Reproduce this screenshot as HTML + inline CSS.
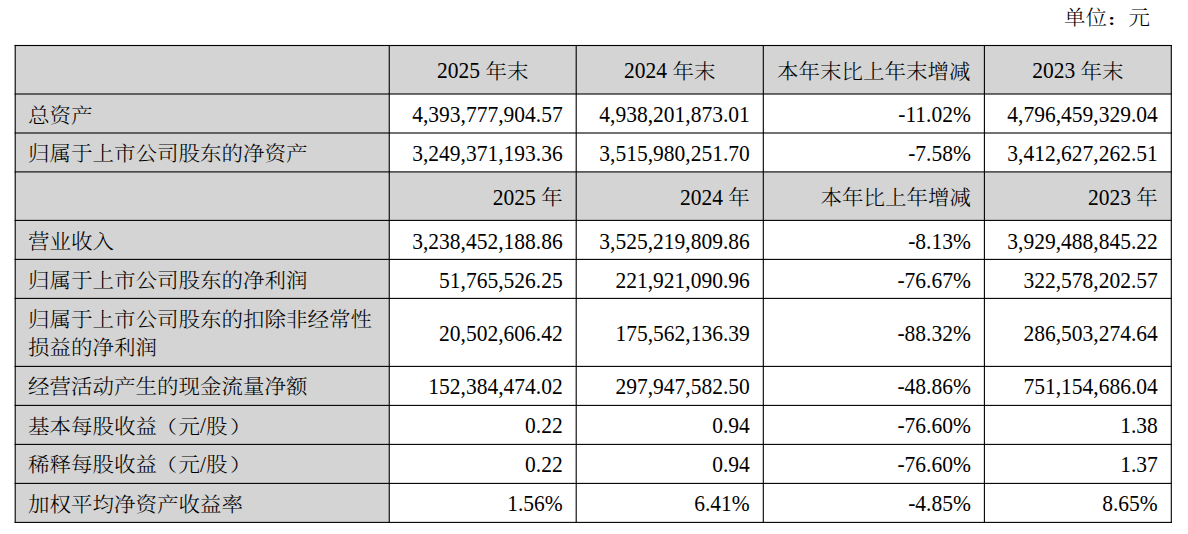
<!DOCTYPE html>
<html lang="zh-CN"><head><meta charset="utf-8"><title>主要会计数据</title>
<style>
*{margin:0;padding:0;box-sizing:border-box}
html,body{width:1188px;height:534px;background:#fff;overflow:hidden}
body{position:relative;font-family:"Liberation Serif","Noto Serif CJK SC",serif;font-size:21.5px;color:#000;line-height:1}
.t{position:absolute;white-space:nowrap;line-height:25.80px}
.c{text-align:center}
.r{text-align:right}
.k{display:inline-block;transform:translateY(calc(3.0px + var(--dk,0px))) scaleY(0.93);transform-origin:50% 55%;font-weight:300}
.cl{display:inline-block;transform:translate(-1.8px,4.6px) scale(0.85,0.66);transform-origin:50% 55%;font-weight:700}
.pl{display:inline-block;transform:translateX(-1.6px) scaleY(0.9)}
.pr{display:inline-block;transform:translateX(2.4px) scaleY(0.9)}
.n{display:inline-block;white-space:pre;transform:translateY(calc(2.0px + var(--dn,0px))) scaleY(1.05);transform-origin:50% 70%}
svg{position:absolute;left:0;top:0}
</style></head>
<body>
<svg width="1188" height="534" viewBox="0 0 1188 534">
<rect x="15.20" y="45.50" width="374.05" height="476.90" fill="#d4d4d4"/>
<rect x="15.20" y="45.50" width="1156.10" height="48.50" fill="#d4d4d4"/>
<rect x="15.20" y="171.90" width="1156.10" height="48.50" fill="#d4d4d4"/>
<rect x="14.65" y="44.95" width="1157.20" height="1.1" fill="#000"/>
<rect x="14.65" y="93.45" width="1157.20" height="1.1" fill="#000"/>
<rect x="14.65" y="132.45" width="1157.20" height="1.1" fill="#000"/>
<rect x="14.65" y="171.35" width="1157.20" height="1.1" fill="#000"/>
<rect x="14.65" y="219.85" width="1157.20" height="1.1" fill="#000"/>
<rect x="14.65" y="258.85" width="1157.20" height="1.1" fill="#000"/>
<rect x="14.65" y="297.85" width="1157.20" height="1.1" fill="#000"/>
<rect x="14.65" y="365.85" width="1157.20" height="1.1" fill="#000"/>
<rect x="14.65" y="404.85" width="1157.20" height="1.1" fill="#000"/>
<rect x="14.65" y="443.85" width="1157.20" height="1.1" fill="#000"/>
<rect x="14.65" y="482.85" width="1157.20" height="1.1" fill="#000"/>
<rect x="14.65" y="521.85" width="1157.20" height="1.1" fill="#000"/>
<rect x="14.65" y="44.95" width="1.1" height="478.00" fill="#000"/>
<rect x="388.70" y="44.95" width="1.1" height="478.00" fill="#000"/>
<rect x="575.65" y="44.95" width="1.1" height="478.00" fill="#000"/>
<rect x="762.75" y="44.95" width="1.1" height="478.00" fill="#000"/>
<rect x="983.85" y="44.95" width="1.1" height="478.00" fill="#000"/>
<rect x="1170.75" y="44.95" width="1.1" height="478.00" fill="#000"/>
</svg>
<div class="t" style="left:1064px;top:3.3px"><span class="k">单位</span><span class="cl">：</span><span class="k">元</span></div>
<div class="t c" style="--dn:0.35px;--dk:0.35px;left:389.25px;width:186.95px;top:56.85px"><span class="n">2025 </span><span class="k">年末</span></div>
<div class="t c" style="--dn:0.35px;--dk:0.35px;left:576.20px;width:187.10px;top:56.85px"><span class="n">2024 </span><span class="k">年末</span></div>
<div class="t c" style="--dn:0.35px;--dk:0.35px;left:763.30px;width:221.10px;top:56.85px"><span class="k">本年末比上年末增减</span></div>
<div class="t c" style="--dn:0.35px;--dk:0.35px;left:984.40px;width:186.90px;top:56.85px"><span class="n">2023 </span><span class="k">年末</span></div>
<div class="t" style="--dn:0px;--dk:0px;left:28.00px;top:100.60px"><span class="k">总资产</span></div>
<div class="t r" style="--dn:0px;--dk:0px;left:389.25px;width:173.45px;top:100.60px"><span class="n">4,393,777,904.57</span></div>
<div class="t r" style="--dn:0px;--dk:0px;left:576.20px;width:173.60px;top:100.60px"><span class="n">4,938,201,873.01</span></div>
<div class="t r" style="--dn:0px;--dk:0px;left:763.30px;width:207.60px;top:100.60px"><span class="n">-11.02%</span></div>
<div class="t r" style="--dn:0px;--dk:0px;left:984.40px;width:173.40px;top:100.60px"><span class="n">4,796,459,329.04</span></div>
<div class="t" style="--dn:0.15px;--dk:-0.35px;left:28.00px;top:139.55px"><span class="k">归属于上市公司股东的净资产</span></div>
<div class="t r" style="--dn:0.15px;--dk:-0.35px;left:389.25px;width:173.45px;top:139.55px"><span class="n">3,249,371,193.36</span></div>
<div class="t r" style="--dn:0.15px;--dk:-0.35px;left:576.20px;width:173.60px;top:139.55px"><span class="n">3,515,980,251.70</span></div>
<div class="t r" style="--dn:0.15px;--dk:-0.35px;left:763.30px;width:207.60px;top:139.55px"><span class="n">-7.58%</span></div>
<div class="t r" style="--dn:0.15px;--dk:-0.35px;left:984.40px;width:173.40px;top:139.55px"><span class="n">3,412,627,262.51</span></div>
<div class="t r" style="--dn:1.3px;--dk:0.4px;left:389.25px;width:173.45px;top:183.25px"><span class="n">2025 </span><span class="k">年</span></div>
<div class="t r" style="--dn:1.3px;--dk:0.4px;left:576.20px;width:173.60px;top:183.25px"><span class="n">2024 </span><span class="k">年</span></div>
<div class="t r" style="--dn:1.3px;--dk:0.4px;left:763.30px;width:207.60px;top:183.25px"><span class="k">本年比上年增减</span></div>
<div class="t r" style="--dn:1.3px;--dk:0.4px;left:984.40px;width:173.40px;top:183.25px"><span class="n">2023 </span><span class="k">年</span></div>
<div class="t" style="--dn:0.85px;--dk:-0.05px;left:28.00px;top:227.00px"><span class="k">营业收入</span></div>
<div class="t r" style="--dn:0.85px;--dk:-0.05px;left:389.25px;width:173.45px;top:227.00px"><span class="n">3,238,452,188.86</span></div>
<div class="t r" style="--dn:0.85px;--dk:-0.05px;left:576.20px;width:173.60px;top:227.00px"><span class="n">3,525,219,809.86</span></div>
<div class="t r" style="--dn:0.85px;--dk:-0.05px;left:763.30px;width:207.60px;top:227.00px"><span class="n">-8.13%</span></div>
<div class="t r" style="--dn:0.85px;--dk:-0.05px;left:984.40px;width:173.40px;top:227.00px"><span class="n">3,929,488,845.22</span></div>
<div class="t" style="--dn:0.85px;--dk:0.15px;left:28.00px;top:266.00px"><span class="k">归属于上市公司股东的净利润</span></div>
<div class="t r" style="--dn:0.85px;--dk:0.15px;left:389.25px;width:173.45px;top:266.00px"><span class="n">51,765,526.25</span></div>
<div class="t r" style="--dn:0.85px;--dk:0.15px;left:576.20px;width:173.60px;top:266.00px"><span class="n">221,921,090.96</span></div>
<div class="t r" style="--dn:0.85px;--dk:0.15px;left:763.30px;width:207.60px;top:266.00px"><span class="n">-76.67%</span></div>
<div class="t r" style="--dn:0.85px;--dk:0.15px;left:984.40px;width:173.40px;top:266.00px"><span class="n">322,578,202.57</span></div>
<div class="t" style="--dn:0.35px;--dk:-0.25px;left:28.00px;top:303.60px;line-height:28.8px"><span class="k">归属于上市公司股东的扣除非经常性</span><br><span class="k">损益的净利润</span></div>
<div class="t r" style="--dn:0.35px;--dk:-0.25px;left:389.25px;width:173.45px;top:319.50px"><span class="n">20,502,606.42</span></div>
<div class="t r" style="--dn:0.35px;--dk:-0.25px;left:576.20px;width:173.60px;top:319.50px"><span class="n">175,562,136.39</span></div>
<div class="t r" style="--dn:0.35px;--dk:-0.25px;left:763.30px;width:207.60px;top:319.50px"><span class="n">-88.32%</span></div>
<div class="t r" style="--dn:0.35px;--dk:-0.25px;left:984.40px;width:173.40px;top:319.50px"><span class="n">286,503,274.64</span></div>
<div class="t" style="--dn:-0.15px;--dk:-0.95px;left:28.00px;top:373.00px"><span class="k">经营活动产生的现金流量净额</span></div>
<div class="t r" style="--dn:-0.15px;--dk:-0.95px;left:389.25px;width:173.45px;top:373.00px"><span class="n">152,384,474.02</span></div>
<div class="t r" style="--dn:-0.15px;--dk:-0.95px;left:576.20px;width:173.60px;top:373.00px"><span class="n">297,947,582.50</span></div>
<div class="t r" style="--dn:-0.15px;--dk:-0.95px;left:763.30px;width:207.60px;top:373.00px"><span class="n">-48.86%</span></div>
<div class="t r" style="--dn:-0.15px;--dk:-0.95px;left:984.40px;width:173.40px;top:373.00px"><span class="n">751,154,686.04</span></div>
<div class="t" style="--dn:-0.15px;--dk:-0.15px;left:28.00px;top:412.00px"><span class="k">基本每股收益<span class="pl">（</span>元</span><span class="n">/</span><span class="k">股<span class="pr">）</span></span></div>
<div class="t r" style="--dn:-0.15px;--dk:-0.15px;left:389.25px;width:173.45px;top:412.00px"><span class="n">0.22</span></div>
<div class="t r" style="--dn:-0.15px;--dk:-0.15px;left:576.20px;width:173.60px;top:412.00px"><span class="n">0.94</span></div>
<div class="t r" style="--dn:-0.15px;--dk:-0.15px;left:763.30px;width:207.60px;top:412.00px"><span class="n">-76.60%</span></div>
<div class="t r" style="--dn:-0.15px;--dk:-0.15px;left:984.40px;width:173.40px;top:412.00px"><span class="n">1.38</span></div>
<div class="t" style="--dn:-0.15px;--dk:-1.15px;left:28.00px;top:451.00px"><span class="k">稀释每股收益<span class="pl">（</span>元</span><span class="n">/</span><span class="k">股<span class="pr">）</span></span></div>
<div class="t r" style="--dn:-0.15px;--dk:-1.15px;left:389.25px;width:173.45px;top:451.00px"><span class="n">0.22</span></div>
<div class="t r" style="--dn:-0.15px;--dk:-1.15px;left:576.20px;width:173.60px;top:451.00px"><span class="n">0.94</span></div>
<div class="t r" style="--dn:-0.15px;--dk:-1.15px;left:763.30px;width:207.60px;top:451.00px"><span class="n">-76.60%</span></div>
<div class="t r" style="--dn:-0.15px;--dk:-1.15px;left:984.40px;width:173.40px;top:451.00px"><span class="n">1.37</span></div>
<div class="t" style="--dn:-0.15px;--dk:-0.15px;left:28.00px;top:490.00px"><span class="k">加权平均净资产收益率</span></div>
<div class="t r" style="--dn:-0.15px;--dk:-0.15px;left:389.25px;width:173.45px;top:490.00px"><span class="n">1.56%</span></div>
<div class="t r" style="--dn:-0.15px;--dk:-0.15px;left:576.20px;width:173.60px;top:490.00px"><span class="n">6.41%</span></div>
<div class="t r" style="--dn:-0.15px;--dk:-0.15px;left:763.30px;width:207.60px;top:490.00px"><span class="n">-4.85%</span></div>
<div class="t r" style="--dn:-0.15px;--dk:-0.15px;left:984.40px;width:173.40px;top:490.00px"><span class="n">8.65%</span></div>
</body></html>
